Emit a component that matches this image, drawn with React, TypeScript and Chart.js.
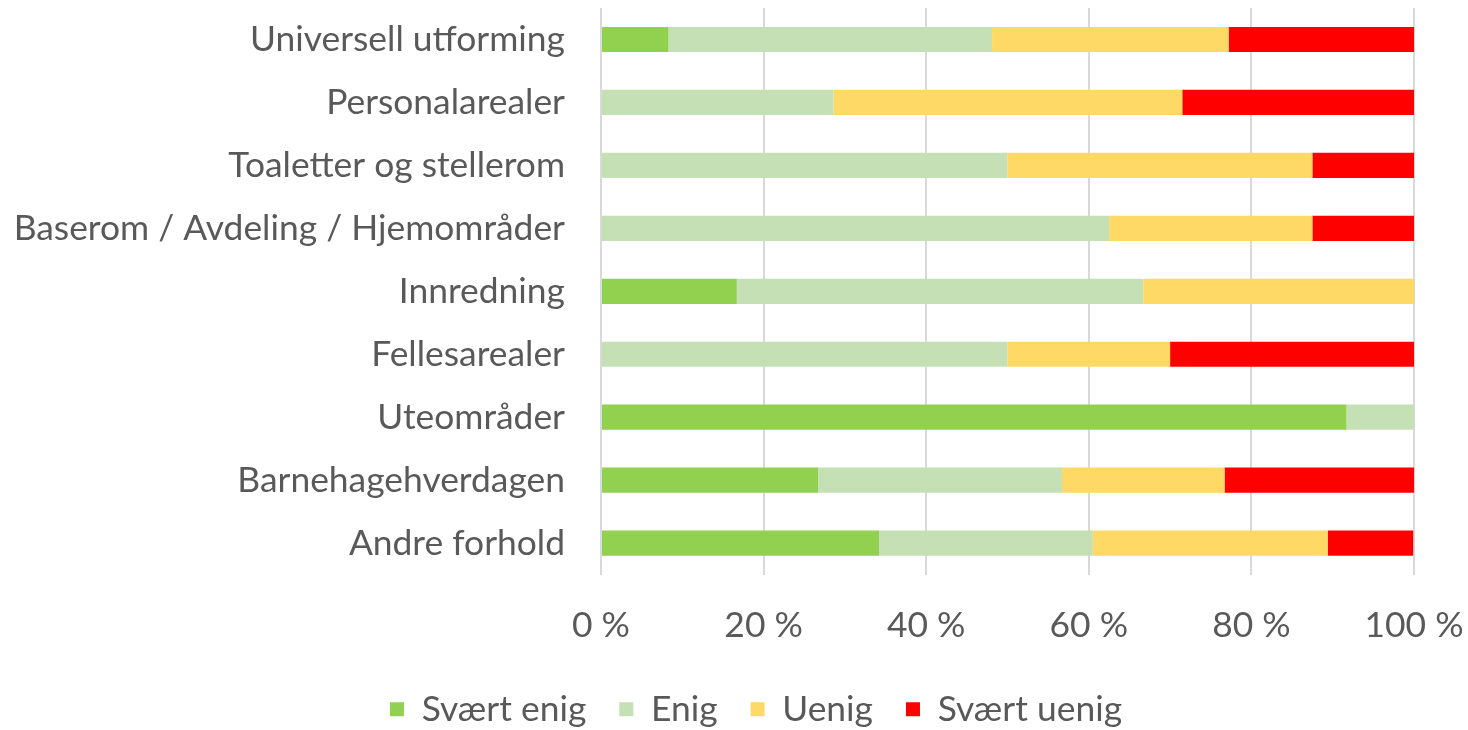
import React, { useEffect, useRef } from "react";
import { Chart, registerables } from "chart.js";

Chart.register(...registerables);

const categories = [
  "Universell utforming",
  "Personalarealer",
  "Toaletter og stellerom",
  "Baserom / Avdeling / Hjemområder",
  "Innredning",
  "Fellesarealer",
  "Uteområder",
  "Barnehagehverdagen",
  "Andre forhold",
];

const seriesNames = ["Svært enig", "Enig", "Uenig", "Svært uenig"];
const seriesColors = ["#92D050", "#C5E0B4", "#FFD966", "#FF0000"];

const svaertEnig = [8.3, 0, 0, 0, 16.7, 0, 91.7, 26.7, 34.2];
const enig = [39.8, 28.6, 50, 62.5, 50, 50, 8.3, 30, 26.3];
const uenig = [29.1, 42.9, 37.5, 25, 33.3, 20, 0, 20, 28.9];
const svaertUenig = [22.8, 28.5, 12.5, 12.5, 0, 30, 0, 23.3, 10.5];

const xTickValues = [0, 20, 40, 60, 80, 100];

const FONT = "Lato, 'Open Sans', sans-serif";
const TEXT = "#595959";
const SIZE = 35.4;

const legendShift = {
  id: "legendShift",
  afterLayout(chart: any) {
    const lg = chart.legend;
    if (lg) {
      lg.left += 49;
      lg.right += 49;
    }
  },
};

export default function App() {
  const ref = useRef<HTMLCanvasElement | null>(null);

  useEffect(() => {
    if (!ref.current) return;
    const values = [svaertEnig, enig, uenig, svaertUenig];
    const chart = new Chart(ref.current, {
      type: "bar",
      data: {
        labels: categories,
        datasets: seriesNames.map((name, i) => ({
          label: name,
          data: values[i],
          backgroundColor: seriesColors[i],
          borderWidth: 0,
          categoryPercentage: 1,
          barPercentage: 0.4,
        })),
      },
      plugins: [legendShift],
      options: {
        indexAxis: "y",
        animation: false,
        responsive: true,
        maintainAspectRatio: false,
        layout: { padding: { top: 8, right: 54, bottom: 13, left: 0 } },
        plugins: {
          tooltip: { enabled: false },
          legend: {
            position: "bottom",
            labels: {
              font: { family: FONT, size: SIZE },
              color: TEXT,
              boxWidth: 14,
              boxHeight: 14,
              padding: 33,
            },
          },
        },
        scales: {
          x: {
            stacked: true,
            min: 0,
            max: 100,
            afterBuildTicks: (scale: any) => {
              scale.ticks = xTickValues.map((v) => ({ value: v }));
            },
            afterFit: (scale: any) => {
              scale.height = 84;
              scale.paddingLeft = 0;
              scale.paddingRight = 0;
            },
            ticks: {
              font: { family: FONT, size: SIZE },
              color: TEXT,
              padding: 30,
              callback: (v: any) => `${v} %`,
              maxRotation: 0,
            },
            grid: { color: "#D9D9D9", lineWidth: 2, drawTicks: false },
            border: { display: false },
          },
          y: {
            stacked: true,
            afterFit: (scale: any) => {
              scale.width = 601;
              scale.paddingTop = 0;
              scale.paddingBottom = 0;
            },
            ticks: {
              font: { family: FONT, size: SIZE },
              color: TEXT,
              padding: 36,
            },
            grid: { display: false, drawTicks: false },
            border: { display: false },
          },
        },
      },
    });
    return () => chart.destroy();
  }, []);

  return (
    <div style={{ position: "fixed", left: 0, top: 0, width: 1468, height: 750, background: "#fff" }}>
      <canvas ref={ref} />
    </div>
  );
}
